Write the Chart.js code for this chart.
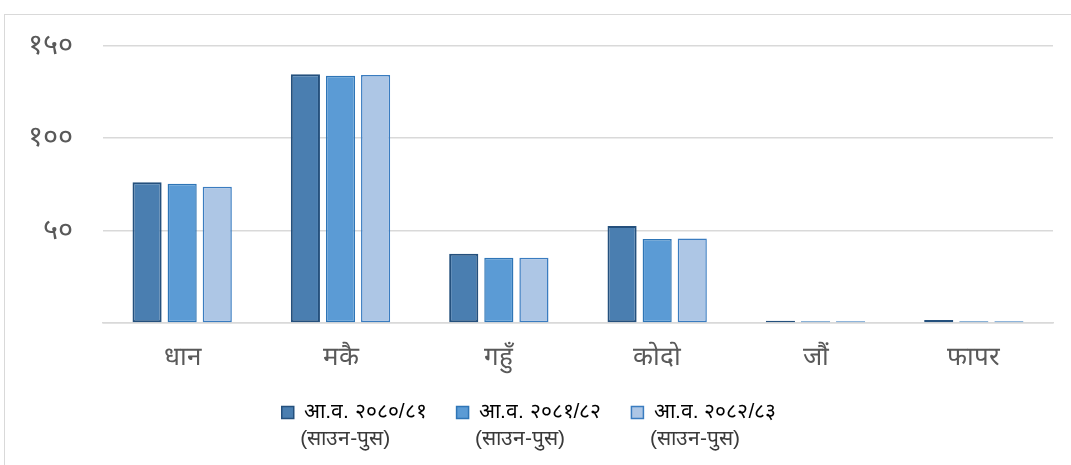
<!DOCTYPE html>
<html>
<head>
<meta charset="utf-8">
<script src="https://cdn.jsdelivr.net/npm/chart.js@4/dist/chart.umd.min.js"></script>
<style>
  html, body { margin: 0; padding: 0; background: #fff; overflow: hidden; }
  .frame {
    position: absolute; left: 4px; top: 14px;
    width: 1067px; height: 451px;
    border-left: 1.5px solid #d9d9d9; border-top: 1.5px solid #d9d9d9;
  }
</style>
</head>
<body>
<div class="frame"><canvas id="myChart" width="1067" height="451"></canvas></div>
<script>
// ============= data =============
const categories = ['धान', 'मकै', 'गहुँ', 'कोदो', 'जौं', 'फापर'];
const seriesNames = ['आ.व. २०८०/८१', 'आ.व. २०८१/८२', 'आ.व. २०८२/८३'];
const seriesSub = ['(साउन-पुस)', '(साउन-पुस)', '(साउन-पुस)'];
const fy8081 = [76.1, 134.5, 37.5, 52.4, 1.2, 1.6];
const fy8182 = [75.3, 133.7, 35.3, 45.4, 0.9, 1.0];
const fy8283 = [73.6, 134.0, 35.3, 45.7, 0.9, 1.0];
const yTicks = [0, 50, 100, 150];
const yTickLabels = ['', '५०', '१००', '१५०'];

const fills = ['#4a7eb0', '#5b9bd5', '#adc6e5'];
const borders = ['#24507d', '#2e75b6', '#3a7cc0'];
const legendFont = 21;

// second legend line, drawn under each legend item
const legendSubLine = {
  id: 'legendSubLine',
  afterDraw(c) {
    const lg = c.legend;
    if (!lg || !lg.legendHitBoxes) return;
    const g = c.ctx;
    g.save();
    g.font = legendFont + 'px sans-serif';
    g.fillStyle = '#3a3a3a';
    g.textBaseline = 'middle';
    lg.legendHitBoxes.forEach((hb, i) => {
      g.fillText(seriesSub[i], hb.left + 12 + legendFont / 2 - 4, hb.top + hb.height / 2 + 27);
    });
    g.restore();
  }
};

// ============= chart =============
const ctx = document.querySelector('#myChart').getContext('2d');
const chart = new Chart(ctx, {
  type: 'bar',
  data: {
    labels: categories,
    datasets: [fy8081, fy8182, fy8283].map((d, i) => ({
      label: seriesNames[i],
      data: d,
      backgroundColor: fills[i],
      borderColor: borders[i],
      borderWidth: i === 0 ? 2 : 1.5,
      borderSkipped: false,
      barPercentage: 0.83,
      categoryPercentage: 0.665
    }))
  },
  options: {
    responsive: false,
    animation: false,
    layout: { padding: { left: 0, right: 19, top: 30.5, bottom: 33 } },
    scales: {
      x: {
        // fixed axis box height; labels left unclipped
        afterFit: (s) => { s.height = 49; s._computeLabelArea = () => null; },
        grid: { display: false, drawTicks: false },
        border: { color: '#d9d9d9', width: 1.5 },
        ticks: { color: '#595959', font: { size: 26 }, padding: 19 }
      },
      y: {
        min: 0, max: 150,
        afterFit: (s) => { s.width = 98; s.paddingTop = 0; s.paddingBottom = 0; },
        afterBuildTicks: (s) => { s.ticks = yTicks.map(v => ({ value: v })); },
        grid: { color: '#d9d9d9', lineWidth: 1.5, drawTicks: false },
        border: { display: false },
        ticks: {
          color: '#595959', font: { size: 29 }, padding: 30,
          callback: (v, i) => yTickLabels[i]
        }
      }
    },
    plugins: {
      tooltip: { enabled: false },
      legend: {
        position: 'bottom',
        labels: {
          color: '#3a3a3a',
          font: { size: legendFont },
          boxWidth: 12, boxHeight: 12,
          padding: 30,
          generateLabels: (c) => c.data.datasets.map((ds, i) => ({
            text: ds.label,
            fillStyle: ds.backgroundColor,
            strokeStyle: ds.borderColor,
            lineWidth: 1.5,
            datasetIndex: i
          }))
        }
      }
    }
  },
  plugins: [legendSubLine]
});
</script>
</body>
</html>
